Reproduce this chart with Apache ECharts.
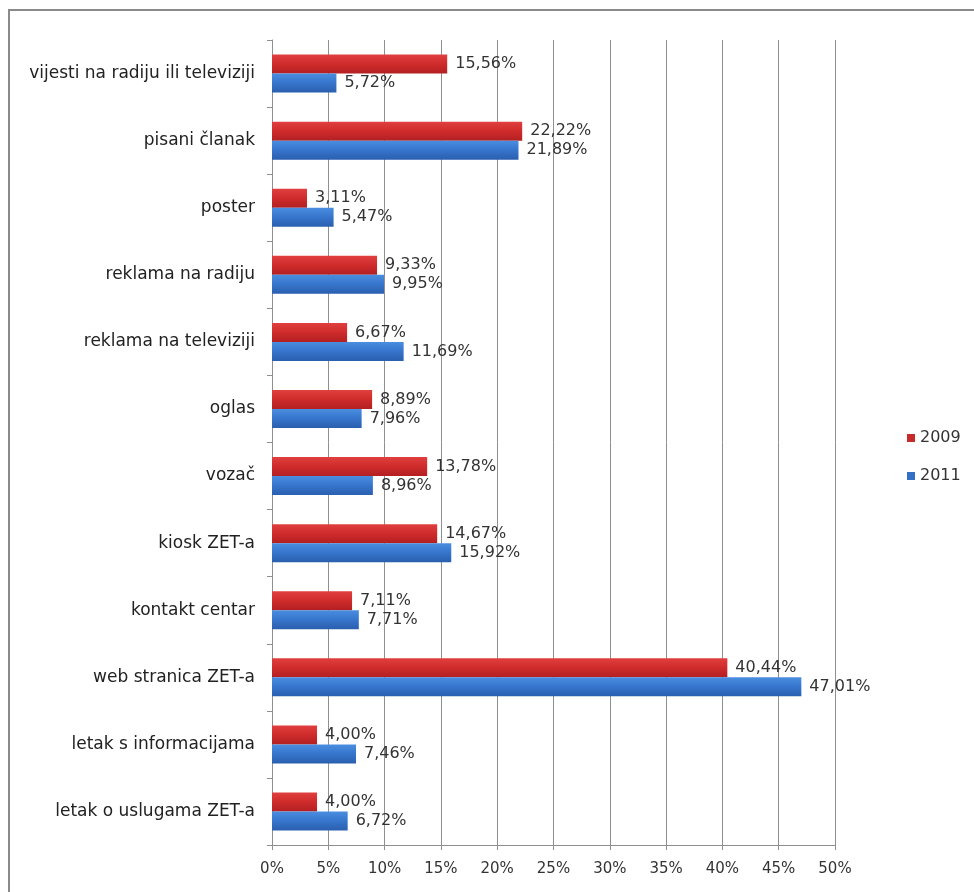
<!DOCTYPE HTML>
<html>
<head>
    <meta charset="utf-8">
    <title>ZET - izvori informacija</title>
    <script src="https://cdn.jsdelivr.net/npm/echarts@6/dist/echarts.min.js"></script>
    <style>
        html, body { margin: 0; padding: 0; background: #fff; }
        #container { width: 974px; height: 892px; }
        .frame {
            position: absolute; left: 8px; top: 9px; width: 980px; height: 900px;
            border-left: 2px solid #8a8a8a; border-top: 2px solid #8a8a8a;
            pointer-events: none;
        }
    </style>
</head>
<body>
<div id="container"></div>
<div class="frame"></div>
<script>
    var categories = ["vijesti na radiju ili televiziji", "pisani članak", "poster", "reklama na radiju",
        "reklama na televiziji", "oglas", "vozač", "kiosk ZET-a", "kontakt centar",
        "web stranica ZET-a", "letak s informacijama", "letak o uslugama ZET-a"];
    var values2009 = [15.56, 22.22, 3.11, 9.33, 6.67, 8.89, 13.78, 14.67, 7.11, 40.44, 4.00, 4.00];
    var values2011 = [5.72, 21.89, 5.47, 9.95, 11.69, 7.96, 8.96, 15.92, 7.71, 47.01, 7.46, 6.72];
    var xTicks = [0, 5, 10, 15, 20, 25, 30, 35, 40, 45, 50];

    function pct(v){
        return v.toFixed(2).replace('.', ',') + '%';
    }

    var fontFam = '"DejaVu Sans", sans-serif';
    var red = new echarts.graphic.LinearGradient(0, 0, 0, 1, [
        {offset: 0, color: '#e0403f'}, {offset: 0.5, color: '#cf2b2b'}, {offset: 1, color: '#b32022'}
    ]);
    var blue = new echarts.graphic.LinearGradient(0, 0, 0, 1, [
        {offset: 0, color: '#4a8ee0'}, {offset: 0.5, color: '#3675cc'}, {offset: 1, color: '#2a5fae'}
    ]);

    var myChart = echarts.init(document.getElementById("container"));
    var option = {
        animation: false,
        textStyle: {fontFamily: fontFam},
        legend: {
            orient: 'vertical',
            left: 902,
            top: 425,
            itemWidth: 8,
            itemHeight: 8,
            itemGap: 22,
            icon: 'rect',
            textStyle: {fontSize: 16, color: '#333', fontFamily: fontFam},
            data: [
                {name: '2009', itemStyle: {color: '#c62a2b'}},
                {name: '2011', itemStyle: {color: '#3370c6'}}
            ]
        },
        grid: {left: 272, right: 139, top: 40, bottom: 47, containLabel: false},
        xAxis: {
            type: 'value',
            min: xTicks[0],
            max: xTicks[xTicks.length - 1],
            interval: 5,
            axisLine: {show: true, lineStyle: {color: '#8f8f8f'}},
            axisTick: {show: true, length: 5, lineStyle: {color: '#8f8f8f'}},
            splitLine: {show: true, lineStyle: {color: '#8f8f8f', width: 1}},
            axisLabel: {
                formatter: function(v){ return v + '%'; },
                fontSize: 15, color: '#333', margin: 17, fontFamily: fontFam
            }
        },
        yAxis: {
            type: 'category',
            inverse: true,
            data: categories,
            axisLine: {show: true, lineStyle: {color: '#8f8f8f'}},
            axisTick: {show: true, length: 5, lineStyle: {color: '#8f8f8f'}},
            axisLabel: {fontSize: 17, color: '#222', margin: 17, fontFamily: fontFam}
        },
        series: [
            {
                name: '2009',
                type: 'bar',
                data: values2009,
                barWidth: 19,
                barGap: '0%',
                itemStyle: {color: red},
                label: {
                    show: true, position: 'right', distance: 8,
                    fontSize: 16, color: '#333', fontFamily: fontFam,
                    formatter: function(p){ return pct(p.value); }
                }
            },
            {
                name: '2011',
                type: 'bar',
                data: values2011,
                barWidth: 19,
                barGap: '0%',
                itemStyle: {color: blue},
                label: {
                    show: true, position: 'right', distance: 8,
                    fontSize: 16, color: '#333', fontFamily: fontFam,
                    formatter: function(p){ return pct(p.value); }
                }
            }
        ]
    };
    myChart.setOption(option, true);
</script>
</body>
</html>
